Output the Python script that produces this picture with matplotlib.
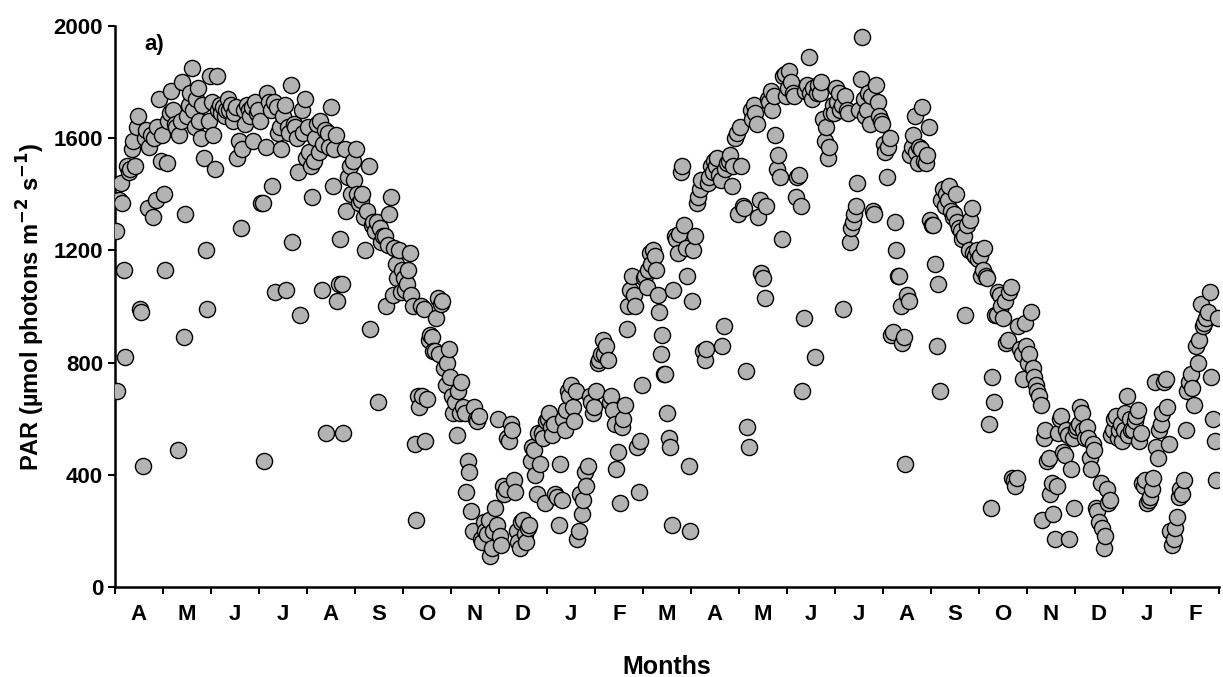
import numpy as np
import matplotlib.pyplot as plt

# Daily PAR values, one list per month (April yr1 .. February yr3)
month_labels = ["A", "M", "J", "J", "A", "S", "O", "N", "D", "J", "F",
                "M", "A", "M", "J", "J", "A", "S", "O", "N", "D", "J", "F"]

apr1 = [1270, 700, 1380, 1440, 1370, 1130, 820, 1500, 1480, 1490, 1560, 1590, 1500, 1640, 1680,
        990, 980, 430, 1600, 1630, 1350, 1570, 1610, 1320, 1600, 1380, 1640, 1740, 1520, 1610]
may1 = [1400, 1130, 1510, 1660, 1690, 1770, 1700, 1650, 1640, 490, 1610, 1660, 1800, 890, 1330,
        1680, 1720, 1760, 1850, 1700, 1640, 1740, 1780, 1660, 1600, 1720, 1530, 1200, 990, 1660, 1820]
jun1 = [1730, 1610, 1490, 1820, 1700, 1720, 1690, 1710, 1680, 1700, 1740, 1700, 1720, 1660, 1690,
        1710, 1530, 1590, 1280, 1560, 1700, 1650, 1720, 1700, 1680, 1710, 1590, 1730, 1690, 1700]
jul1 = [1660, 1370, 1370, 450, 1570, 1760, 1730, 1700, 1430, 1730, 1050, 1710, 1620, 1640, 1560,
        1680, 1720, 1060, 1640, 1620, 1790, 1230, 1650, 1640, 1600, 1480, 970, 1700, 1620, 1740, 1530]
aug1 = [1640, 1550, 1500, 1390, 1520, 1600, 1650, 1550, 1660, 1060, 1580, 1630, 550, 1620, 1570,
        1710, 1430, 1560, 1610, 1020, 1080, 1240, 1080, 550, 1560, 1340, 1460, 1500, 1400, 1520, 1450]
sep1 = [1560, 1400, 1370, 1380, 1400, 1320, 1200, 1340, 1500, 920, 1290, 1300, 1270, 1300, 660,
        1280, 1230, 1250, 1250, 1000, 1220, 1330, 1390, 1040, 1210, 1150, 1100, 1200, 1050, 1130]
oct1 = [1100, 1060, 1080, 1130, 1190, 1040, 1000, 510, 240, 680, 640, 1000, 680, 990, 520, 670,
        880, 900, 890, 840, 840, 960, 1030, 830, 1010, 1020, 780, 720, 800, 850, 750]
nov1 = [680, 620, 660, 540, 700, 620, 730, 640, 620, 340, 450, 410, 270, 200, 640, 600, 590, 610,
        170, 160, 230, 200, 190, 240, 110, 140, 200, 280, 220, 600]
dec1 = [180, 150, 360, 330, 350, 530, 520, 580, 560, 380, 340, 200, 160, 140, 230, 240, 190, 160,
        210, 220, 450, 500, 490, 400, 330, 550, 440, 550, 530, 300, 590]
jan2 = [600, 620, 570, 540, 580, 330, 320, 220, 440, 310, 600, 560, 630, 700, 680, 720, 640, 590,
        700, 170, 200, 330, 260, 310, 410, 360, 430, 680, 660, 620, 640]
feb2 = [700, 800, 810, 830, 880, 830, 860, 810, 660, 680, 630, 580, 420, 480, 300, 570, 600, 650,
        920, 1000, 1060, 1110, 1040, 1000, 500, 340, 520, 720]
mar2 = [1100, 1110, 1070, 1130, 1190, 1150, 1200, 1180, 1130, 1040, 980, 830, 900, 760, 760, 620,
        530, 500, 220, 1060, 1250, 1240, 1190, 1260, 1480, 1500, 1290, 1210, 1110, 430, 200]
apr2 = [1020, 1200, 1250, 1370, 1390, 1420, 1450, 840, 810, 850, 1440, 1460, 1500, 1480, 1520,
        1500, 1530, 1470, 1450, 860, 930, 1490, 1510, 1520, 1540, 1430, 1500, 1600, 1620, 1330]
may2 = [1640, 1500, 1360, 1350, 770, 570, 500, 1700, 1670, 1720, 1690, 1650, 1320, 1380, 1120,
        1100, 1030, 1360, 1740, 1730, 1770, 1700, 1750, 1610, 1490, 1540, 1460, 1240, 1820, 1830, 1750]
jun2 = [1780, 1840, 1800, 1760, 1750, 1390, 1460, 1470, 1360, 700, 960, 1770, 1790, 1890, 1760,
        1740, 1780, 820, 1760, 1790, 1760, 1800, 1670, 1590, 1640, 1530, 1570, 1690, 1720, 1690]
jul2 = [1780, 1730, 1760, 1700, 1720, 990, 1750, 1700, 1690, 1230, 1280, 1300, 1330, 1360, 1440,
        1700, 1810, 1960, 1740, 1680, 1700, 1760, 1650, 1750, 1340, 1330, 1790, 1730, 1680, 1660, 1650]
aug2 = [1580, 1550, 1460, 1570, 1600, 900, 910, 1300, 1200, 1110, 1110, 1000, 870, 890, 440, 1040,
        1020, 1540, 1570, 1610, 1680, 1550, 1510, 1570, 1560, 1710, 1520, 1510, 1540, 1640, 1310]
sep2 = [1290, 1290, 1150, 860, 1080, 700, 1380, 1420, 1360, 1400, 1380, 1430, 1340, 1320, 1330,
        1400, 1300, 1280, 1270, 1240, 1250, 970, 1290, 1200, 1310, 1350, 1190, 1180, 1200, 1170]
oct2 = [1180, 1110, 1130, 1210, 1110, 1100, 580, 280, 750, 660, 970, 970, 1050, 1040, 1000, 960,
        1020, 870, 880, 1050, 1070, 390, 380, 360, 390, 930, 850, 830, 740, 940, 860]
nov2 = [800, 830, 980, 780, 750, 720, 700, 680, 650, 240, 530, 560, 450, 460, 330, 370, 260, 170,
        360, 550, 600, 610, 480, 470, 560, 540, 170, 420, 530, 280]
dec2 = [560, 570, 580, 640, 620, 560, 530, 570, 530, 460, 420, 510, 490, 280, 270, 230, 370, 210,
        140, 180, 350, 300, 310, 540, 560, 600, 610, 530, 560, 580, 520]
jan3 = [560, 620, 680, 540, 600, 560, 560, 590, 610, 630, 520, 550, 370, 360, 380, 300, 310, 320,
        350, 390, 730, 500, 460, 560, 580, 620, 730, 740, 640, 510, 200]
feb3 = [150, 170, 210, 250, 320, 350, 330, 380, 560, 700, 730, 760, 710, 650, 860, 800, 880, 1010,
        930, 940, 960, 980, 1050, 750, 600, 520, 380, 960]

months = [apr1, may1, jun1, jul1, aug1, sep1, oct1, nov1, dec1, jan2, feb2,
          mar2, apr2, may2, jun2, jul2, aug2, sep2, oct2, nov2, dec2, jan3, feb3]


def build_series(months):
    """Place each day at its fractional position inside its month."""
    xs, ys = [], []
    for m, vals in enumerate(months):
        n = len(vals)
        for d, v in enumerate(vals):
            xs.append(m + (d + 0.5) / n)
            ys.append(v)
    return np.array(xs), np.array(ys)


def plot_par(x, y):
    plt.rcParams["font.family"] = ["Liberation Sans", "DejaVu Sans"]
    plt.rcParams["font.weight"] = "bold"

    fig = plt.figure(figsize=(12.23, 6.77), dpi=100)
    ax = fig.add_axes([0.094, 0.133, 0.9027, 0.8286])

    ax.scatter(x, y, s=135, facecolor="#b3b3b3", edgecolor="black",
               linewidth=1.0, zorder=3)

    ax.set_xlim(0, len(months))
    ax.set_ylim(0, 2000)
    ax.set_yticks(np.arange(0, 2001, 400))

    # month boundaries as ticks, labels centred in each month
    ax.set_xticks(np.arange(0, len(months) + 1), minor=True)
    ax.set_xticks(np.arange(len(months)) + 0.5)
    ax.set_xticklabels(month_labels)
    ax.tick_params(axis="x", which="major", length=0, pad=12, labelsize=16)
    ax.tick_params(axis="x", which="minor", length=5, width=1.5, direction="out")
    ax.tick_params(axis="y", length=5, width=1.5, labelsize=16)

    for side in ["top", "right"]:
        ax.spines[side].set_visible(False)
    for side in ["left", "bottom"]:
        ax.spines[side].set_linewidth(1.8)

    ax.set_xlabel("Months", fontsize=18, fontweight="bold", labelpad=22)
    ax.set_ylabel("PAR (\u00b5mol photons m$^{\\mathbf{-2}}$ s$^{\\mathbf{-1}}$)",
                  fontsize=17, fontweight="bold", labelpad=5)
    ax.text(0.027, 0.985, "a)", transform=ax.transAxes, fontsize=16,
            fontweight="bold", va="top")

    fig.savefig("out.png", dpi=100)


if __name__ == "__main__":
    x, y = build_series(months)
    plot_par(x, y)
